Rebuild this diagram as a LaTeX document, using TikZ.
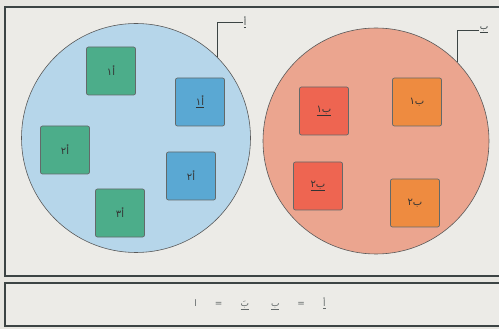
\documentclass[tikz,border=0pt]{standalone}
\usepackage{fontspec}
\newfontfamily\arabicfont[Script=Arabic]{DejaVu Sans}
\TeXXeTstate=1
\usetikzlibrary{positioning}
\definecolor{paper}{HTML}{E7E6E1}
\definecolor{panel}{HTML}{ECEBE7}
\definecolor{setblue}{HTML}{B6D6EA}
\definecolor{setred}{HTML}{EBA58F}
\definecolor{boxgreen}{HTML}{4CAD8A}
\definecolor{boxblue}{HTML}{5AA8D3}
\definecolor{boxred}{HTML}{EE6551}
\definecolor{boxorange}{HTML}{EE8B40}
\definecolor{ink}{HTML}{3C4444}
\newcommand{\artxt}[1]{{\arabicfont\beginR #1\endR}}
\newcommand{\arul}[1]{\underline{\arabicfont\beginR #1\endR}}

\begin{document}
\begin{tikzpicture}[
  x=1pt, y=-1pt,
  frame/.style={draw=ink, line width=1.2pt, fill=panel},
  setnode/.style={circle, draw=gray!70!black, line width=0.6pt, minimum size=229pt, inner sep=0pt},
  elem/.style={draw=ink!80, line width=0.7pt, rounded corners=2pt, minimum width=49pt, minimum height=48pt, font=\normalsize, text=black!80},
  lead/.style={draw=ink, line width=0.9pt},
  tag/.style={font=\small, text=ink, inner sep=1pt}
]
\useasboundingbox (0,0) rectangle (499,329);
\fill[paper] (0,0) rectangle (499,329);
\clip (0,0) rectangle (499,329);

% panels
\path[frame] (5,7) rectangle (520,276);
\path[frame] (5,283) rectangle (520,326);

% the two sets
\node[setnode, fill=setblue] (setA) at (136,138) {};
\node[setnode, fill=setred, minimum size=226pt] (setB) at (376,141) {};

% elements of the first set
\node[elem, fill=boxgreen] (a1) at (111,71) {\artxt{أ١}};
\node[elem, fill=boxblue] (a1b) at (200,102) {\arul{أ١}};
\node[elem, fill=boxgreen] (a2) at (65,150) {\artxt{أ٢}};
\node[elem, fill=boxblue] (a2b) at (191,176) {\artxt{أ٢}};
\node[elem, fill=boxgreen] (a3) at (120,213) {\artxt{أ٣}};

% elements of the second set
\node[elem, fill=boxred] (b1b) at (324,111) {\arul{ب١}};
\node[elem, fill=boxorange] (b1) at (417,102) {\artxt{ب١}};
\node[elem, fill=boxred] (b2b) at (318,186) {\arul{ب٢}};
\node[elem, fill=boxorange] (b2) at (415,203) {\artxt{ب٢}};

% set labels
\node[tag] (labA) at (245,22) {\arul{أ}};
\node[tag] (labB) at (484,30) {\arul{ب}};
\draw[lead] (setA.45) |- (labA.west);
\draw[lead] (setB.44) |- (labB.west);

% relation
\node[font=\small, text=ink!80] (rel) at (260,304) {\artxt{\underline{أ}\hspace{18pt}=\hspace{18pt}\underline{ب}\hspace{22pt}\underline{بَ}\hspace{18pt}=\hspace{18pt}ا}};
\end{tikzpicture}
\end{document}
